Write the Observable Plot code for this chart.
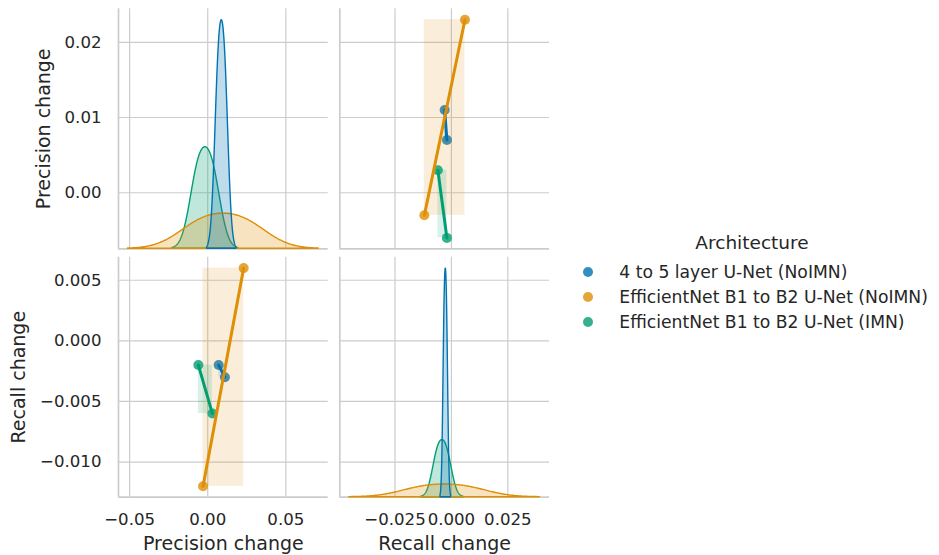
<!DOCTYPE html>
<html>
<head>
<meta charset="utf-8">
<script src="https://cdn.jsdelivr.net/npm/d3@7"></script>
<script src="https://cdn.jsdelivr.net/npm/@observablehq/plot@0.6"></script>
<style>
  html, body { margin: 0; padding: 0; background: #ffffff; }
  #chart { position: relative; width: 939px; height: 555px; overflow: hidden; background: #ffffff;
           font-family: "DejaVu Sans", sans-serif; color: #262626; }
  #chart svg { position: absolute; left: 0; top: 0; background: transparent !important; max-width: none !important; }
  .lg { position: absolute; white-space: nowrap; line-height: 1; font-family: "DejaVu Sans", sans-serif; color: #262626; }
  .sw { position: absolute; width: 10px; height: 10px; border-radius: 50%; opacity: 0.8; }
</style>
</head>
<body>
<div id="chart"></div>
<script>
// ---------------- data ----------------
const hueOrder = [
  "4 to 5 layer U-Net (NoIMN)",
  "EfficientNet B1 to B2 U-Net (NoIMN)",
  "EfficientNet B1 to B2 U-Net (IMN)"
];
const palette = ["#0173b2", "#de8f05", "#029e73"];
const legendTitle = "Architecture";

const architecture = [
  "4 to 5 layer U-Net (NoIMN)", "4 to 5 layer U-Net (NoIMN)",
  "EfficientNet B1 to B2 U-Net (NoIMN)", "EfficientNet B1 to B2 U-Net (NoIMN)",
  "EfficientNet B1 to B2 U-Net (IMN)", "EfficientNet B1 to B2 U-Net (IMN)"
];
const precisionChange = [0.011, 0.007, 0.023, -0.003, 0.003, -0.006];
const recallChange    = [-0.003, -0.002, 0.006, -0.012, -0.006, -0.002];

const precisionLabel = "Precision change";
const recallLabel = "Recall change";

const precisionXTicks = [-0.05, 0, 0.05];
const precisionXTickLabels = ["\u22120.05", "0.00", "0.05"];
const recallXTicks = [-0.025, 0, 0.025];
const recallXTickLabels = ["\u22120.025", "0.000", "0.025"];
const precisionYTicks = [0, 0.01, 0.02];
const precisionYTickLabels = ["0.00", "0.01", "0.02"];
const recallYTicks = [-0.01, -0.005, 0, 0.005];
const recallYTickLabels = ["\u22120.010", "\u22120.005", "0.000", "0.005"];

// ---------------- derived table ----------------
const rows = architecture.map((a, i) => ({arch: a, precision: precisionChange[i], recall: recallChange[i]}));

// Gaussian KDE (Scott's rule, cut = 3, 200 grid points, common normalisation)
function kdeRows(key) {
  const out = [];
  for (const a of hueOrder.slice().reverse()) {
    const vals = rows.filter(r => r.arch === a).map(r => r[key]);
    const n = vals.length;
    const bw = d3.deviation(vals) * Math.pow(n, -0.2);
    const w = n / rows.length;
    const lo = d3.min(vals) - 3 * bw, hi = d3.max(vals) + 3 * bw;
    for (let k = 0; k < 200; k++) {
      const x = lo + (hi - lo) * k / 199;
      const d = w * d3.mean(vals, v => Math.exp(-0.5 * ((x - v) / bw) ** 2) / (bw * Math.sqrt(2 * Math.PI)));
      out.push({arch: a, x, d});
    }
  }
  return out;
}
const kdePrecision = kdeRows("precision");
const kdeRecall = kdeRows("recall");

const pad = ([lo, hi], m = 0.05) => [lo - (hi - lo) * m, hi + (hi - lo) * m];
const precisionXDomain = pad(d3.extent([...kdePrecision.map(d => d.x), ...precisionChange]));
const recallXDomain = pad(d3.extent([...kdeRecall.map(d => d.x), ...recallChange]));
const precisionYDomain = pad(d3.extent(precisionChange));
const recallYDomain = pad(d3.extent(recallChange));

// ---------------- layout ----------------
const W = 939, H = 555;
const colLeft = [118, 339.3], colWidth = 209.7;
const rowTop = [8.3, 256.7], rowHeight = 240;
const GRID = "#cccccc", TEXT = "#262626";
const FONT = "DejaVu Sans";
const TICK_FS = 16.6, LABEL_FS = 19;
const colorScale = {domain: hueOrder, range: palette};

function geom(col, row) {
  return {
    width: W, height: H,
    marginLeft: colLeft[col],
    marginRight: W - colLeft[col] - colWidth,
    marginTop: rowTop[row],
    marginBottom: H - rowTop[row] - rowHeight
  };
}
const fmt = (ticks, labels) => { const m = new Map(ticks.map((t, i) => [t, labels[i]])); return d => m.get(d); };

function gridPanel({col, row, xDomain, yDomain, xTicks, yTicks, xAxis, yAxis, extra = []}) {
  const marks = [
    Plot.gridX(xTicks, {stroke: GRID, strokeOpacity: 1, strokeWidth: 1.2}),
    Plot.gridY(yTicks, {stroke: GRID, strokeOpacity: 1, strokeWidth: 1.2}),
    ...extra,
    Plot.ruleX([xDomain[0]], {stroke: GRID, strokeWidth: 1.7}),
    Plot.ruleY([yDomain[0]], {stroke: GRID, strokeWidth: 1.7})
  ];
  if (xAxis) {
    marks.push(Plot.axisX({ticks: xTicks, tickFormat: fmt(xTicks, xAxis.labels), tickSize: 0, tickPadding: 16.3,
                           fontSize: TICK_FS, label: null, fill: TEXT}));
    marks.push(Plot.axisX({ticks: [], label: xAxis.label, labelAnchor: "center", labelArrow: false,
                           labelOffset: 52.5, fontSize: LABEL_FS, fill: TEXT}));
  }
  if (yAxis) {
    marks.push(Plot.axisY({ticks: yTicks, tickFormat: fmt(yTicks, yAxis.labels), tickSize: 0, tickPadding: 17,
                           fontSize: TICK_FS, label: null, fill: TEXT}));
    marks.push(Plot.axisY({ticks: [], label: yAxis.label, labelAnchor: "center", labelArrow: false,
                           labelOffset: yAxis.offset, fontSize: LABEL_FS, fill: TEXT}));
  }
  return Plot.plot({
    ...geom(col, row),
    x: {domain: xDomain, axis: null},
    y: {domain: yDomain, axis: null},
    color: colorScale,
    style: {background: "transparent", fontFamily: FONT, color: TEXT, overflow: "visible"},
    marks
  });
}

function kdePanel({col, row, xDomain, data}) {
  const dmax = d3.max(data, d => d.d);
  return Plot.plot({
    ...geom(col, row),
    x: {domain: xDomain, axis: null},
    y: {domain: [0, dmax * 1.05], axis: null},
    color: colorScale,
    style: {background: "transparent", fontFamily: FONT, overflow: "visible"},
    marks: [
      Plot.areaY(data, {x: "x", y: "d", z: "arch", fill: "arch", stroke: "arch",
                        fillOpacity: 0.25, strokeWidth: 1.4, curve: "linear"})
    ]
  });
}

function regMarks(xKey, yKey) {
  const marks = [];
  for (const a of hueOrder) {
    const g = rows.filter(r => r.arch === a);
    const [x1, x2] = d3.extent(g, r => r[xKey]);
    const [y1, y2] = d3.extent(g, r => r[yKey]);
    marks.push(Plot.dot(g, {x: xKey, y: yKey, r: 5, fill: "arch", fillOpacity: 0.8, stroke: null}));
    marks.push(Plot.rect([{arch: a, x1, x2, y1, y2}], {x1: "x1", x2: "x2", y1: "y1", y2: "y2", fill: "arch", fillOpacity: 0.15}));
  }
  for (const a of hueOrder) {
    const g = rows.filter(r => r.arch === a);
    marks.push(Plot.linearRegressionY(g, {x: xKey, y: yKey, stroke: "arch", strokeWidth: 3, ci: 0}));
  }
  return marks;
}

const chart = document.getElementById("chart");

// top-left: precision diagonal
chart.append(gridPanel({col: 0, row: 0, xDomain: precisionXDomain, yDomain: precisionYDomain,
  xTicks: precisionXTicks, yTicks: precisionYTicks,
  yAxis: {labels: precisionYTickLabels, label: precisionLabel, offset: 82}}));
chart.append(kdePanel({col: 0, row: 0, xDomain: precisionXDomain, data: kdePrecision}));

// top-right: recall (x) vs precision (y)
chart.append(gridPanel({col: 1, row: 0, xDomain: recallXDomain, yDomain: precisionYDomain,
  xTicks: recallXTicks, yTicks: precisionYTicks, extra: regMarks("recall", "precision")}));

// bottom-left: precision (x) vs recall (y)
chart.append(gridPanel({col: 0, row: 1, xDomain: precisionXDomain, yDomain: recallYDomain,
  xTicks: precisionXTicks, yTicks: recallYTicks, extra: regMarks("precision", "recall"),
  xAxis: {labels: precisionXTickLabels, label: precisionLabel},
  yAxis: {labels: recallYTickLabels, label: recallLabel, offset: 107.4}}));

// bottom-right: recall diagonal
chart.append(gridPanel({col: 1, row: 1, xDomain: recallXDomain, yDomain: recallYDomain,
  xTicks: recallXTicks, yTicks: recallYTicks,
  xAxis: {labels: recallXTickLabels, label: recallLabel}}));
chart.append(kdePanel({col: 1, row: 1, xDomain: recallXDomain, data: kdeRecall}));

// ---------------- legend ----------------
const lg = d3.select(chart);
lg.append("div").attr("class", "lg")
  .style("left", "752px").style("top", (250 - 0.846 * 18.5) + "px")
  .style("transform", "translateX(-50%)").style("font-size", "18.5px")
  .text(legendTitle);
hueOrder.forEach((a, i) => {
  const cy = 271.7 + i * 25;
  lg.append("div").attr("class", "sw")
    .style("left", (587.7 - 5) + "px").style("top", (cy - 5) + "px")
    .style("background", palette[i]);
  lg.append("div").attr("class", "lg")
    .style("left", "619.3px").style("top", (cy + 6.8 - 0.846 * 17.2) + "px")
    .style("font-size", "17.2px")
    .text(a);
});
</script>
</body>
</html>
